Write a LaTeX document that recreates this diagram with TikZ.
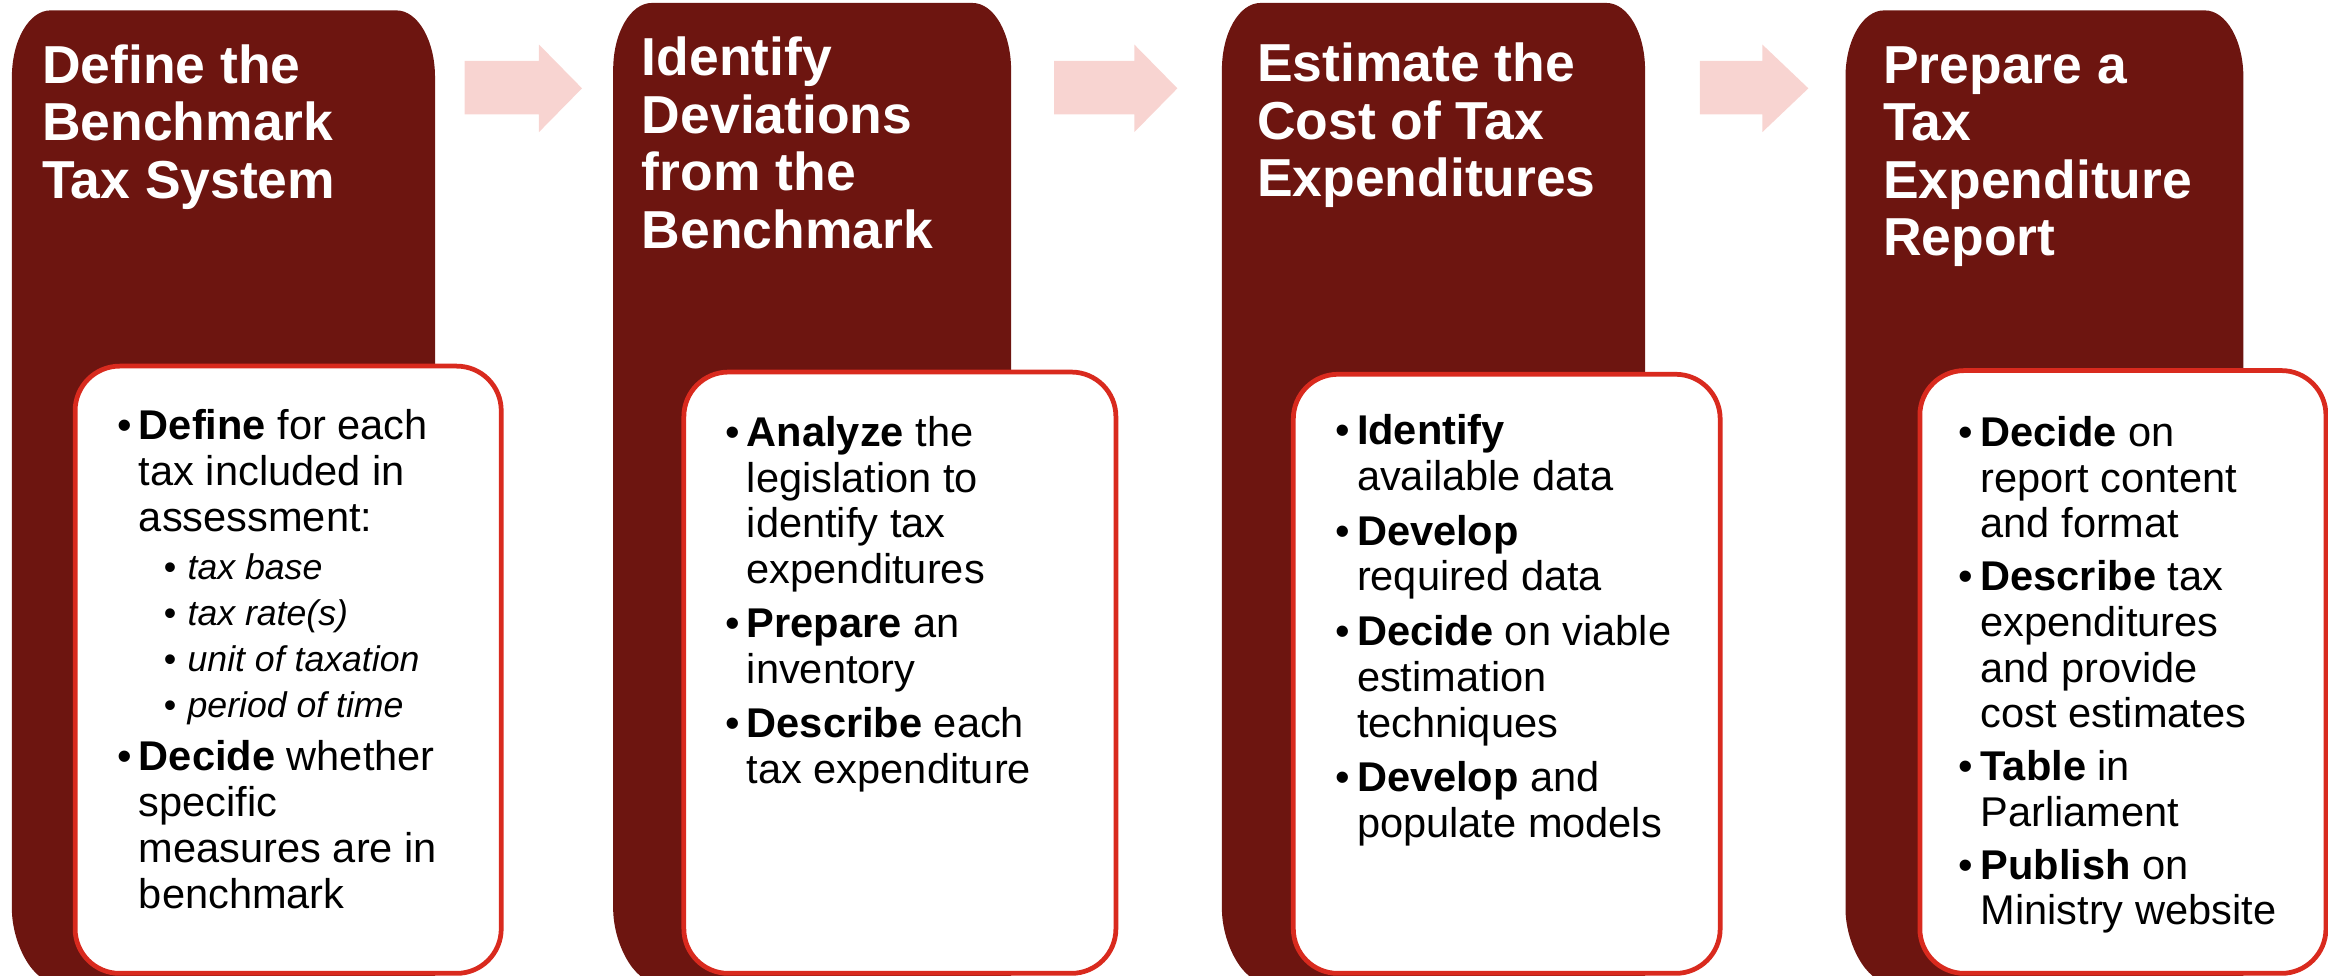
\documentclass[tikz,border=0pt]{standalone}
\usepackage{fontspec}
\setmainfont{Liberation Sans}
\usetikzlibrary{calc, positioning}

\definecolor{stagered}{RGB}{109,21,16}
\definecolor{boxred}{RGB}{217,42,30}
\definecolor{arrowpink}{RGB}{248,212,209}

\newcommand{\bulletmark}{\makebox[7.3pt][l]{\textbullet}}
\newcommand{\hangin}{\hspace*{7.3pt}}
\newcommand{\subbulletmark}{\hspace*{15.7pt}\makebox[8pt][l]{\textbullet}}
\newcommand{\subfont}{\fontsize{12}{15.6}\selectfont}

\tikzstyle{stage} = [fill=stagered]
\tikzstyle{flow} = [fill=arrowpink]
% multi-line nodes sit on the baseline of their last line
\tikzstyle{title} = [anchor=base west, inner sep=0pt, align=left, text=white, font=\fontsize{18}{19.4}\selectfont\bfseries]
\tikzstyle{tasks} = [anchor=north west, draw=boxred, line width=1.6pt, fill=white, rounded corners=15pt, inner sep=0pt]
\tikzstyle{items} = [anchor=base west, inner sep=0pt, align=left, font=\fontsize{14}{15.4}\selectfont]

\begin{document}
\begin{tikzpicture}[x=0.5pt, y=-0.5pt]
	\useasboundingbox (0,0) rectangle (1568,657);
	\clip (0,0) rectangle (1568,657);

	% dark stage columns: left / right / top
	\foreach \l/\r/\t in {8/293/7, 413/681/2, 823/1108/2, 1243/1511/7}
		\fill[stage] (\l,612) -- (\l,\t+45)
			.. controls (\l,\t+20.2) and (\l+11.6,\t) .. (\l+26,\t)
			-- (\r-26,\t) .. controls (\r-11.6,\t) and (\r,\t+20.2) .. (\r,\t+45)
			-- (\r,662) -- (\l+30,662)
			.. controls (\l+13.4,662) and (\l,634.4) .. (\l,612) -- cycle;

	% block arrows between the stages: tail / head base / tip
	\foreach \a/\b/\c in {313/363/392, 710/764/793, 1145/1187/1218}
		\fill[flow] (\a,41) -- (\b,41) -- (\b,30) -- (\c,59.5) -- (\b,89) -- (\b,77) -- (\a,77) -- cycle;

	% stage titles
	\node[title] (head1) at (28,133.6) {Define the\\Benchmark\\Tax System};
	\node[title] (head2) at (432,167.3) {Identify\\Deviations\\from the\\Benchmark};
	\node[title] (head3) at (846.3,132.6) {Estimate the\\Cost of Tax\\Expenditures};
	\node[title] (head4) at (1268,172.4) {Prepare a\\Tax\\Expenditure\\Report};

	% white task boxes
	\node[tasks, minimum width=143.5pt, minimum height=204.5pt] (box1) at (49,245) {};
	\node[tasks, minimum width=145.5pt, minimum height=202.5pt] (box2) at (459,249) {};
	\node[tasks, minimum width=143.75pt, minimum height=201.75pt] (box3) at (869.5,250.5) {};
	\node[tasks, minimum width=136.75pt, minimum height=203pt] (box4) at (1291.5,248) {};

	\node[items, font=\fontsize{14}{15.5}\selectfont] (list1) at (78.6,612) {
		\bulletmark\textbf{Define} for each\\
		\hangin tax included in\\
		\hangin assessment:\\[0.8pt]
		{\subfont\subbulletmark\textit{tax base}}\\
		{\subfont\subbulletmark\textit{tax rate(s)}}\\
		{\subfont\subbulletmark\textit{unit of taxation}}\\
		{\subfont\subbulletmark\textit{period of time}}\\[2.3pt]
		\bulletmark\textbf{Decide} whether\\
		\hangin specific\\
		\hangin measures are in\\
		\hangin benchmark};
	\node[items] (list2) at (488,527.5) {
		\bulletmark\textbf{Analyze} the\\
		\hangin legislation to\\
		\hangin identify tax\\
		\hangin expenditures\\[2.8pt]
		\bulletmark\textbf{Prepare} an\\
		\hangin inventory\\[2.8pt]
		\bulletmark\textbf{Describe} each\\
		\hangin tax expenditure};
	\node[items] (list3) at (899,564) {
		\bulletmark\textbf{Identify}\\
		\hangin available data\\[3pt]
		\bulletmark\textbf{Develop}\\
		\hangin required data\\[3pt]
		\bulletmark\textbf{Decide} on viable\\
		\hangin estimation\\
		\hangin techniques\\[3pt]
		\bulletmark\textbf{Develop} and\\
		\hangin populate models};
	\node[items] (list4) at (1319,623) {
		\bulletmark\textbf{Decide} on\\
		\hangin report content\\
		\hangin and format\\[2.4pt]
		\bulletmark\textbf{Describe} tax\\
		\hangin expenditures\\
		\hangin and provide\\
		\hangin cost estimates\\[2.4pt]
		\bulletmark\textbf{Table} in\\
		\hangin Parliament\\[2.4pt]
		\bulletmark\textbf{Publish} on\\
		\hangin Ministry website};
\end{tikzpicture}
\end{document}
